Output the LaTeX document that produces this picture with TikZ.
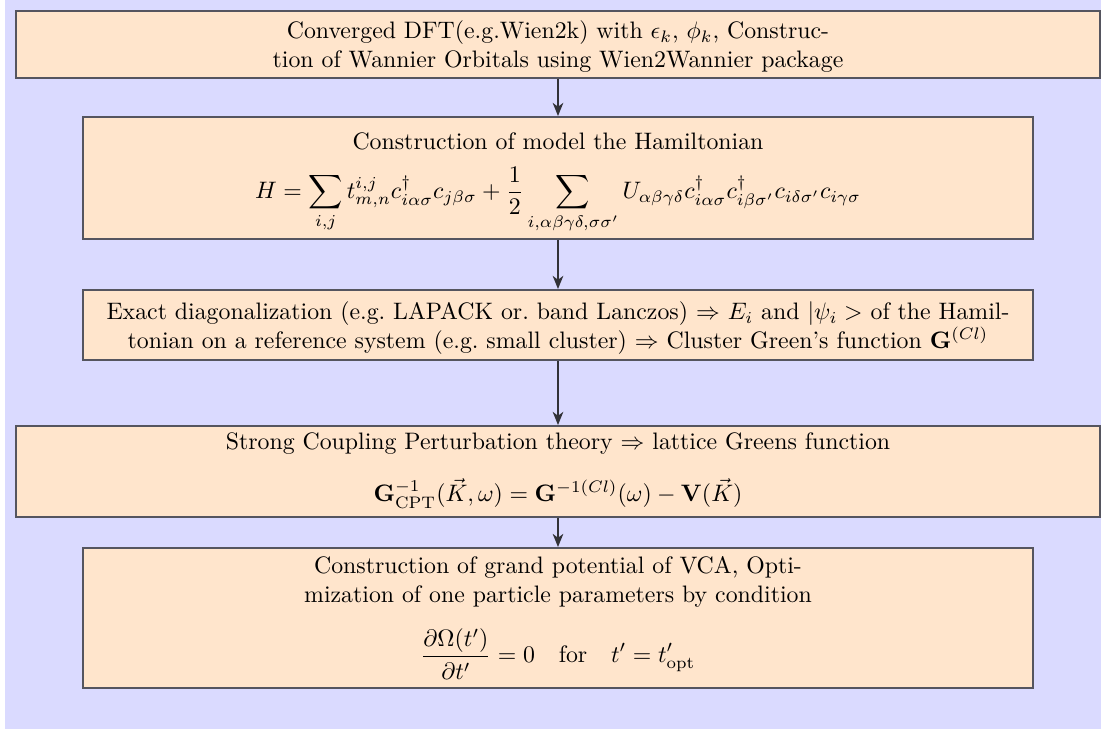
\documentclass[tikz,border=0pt]{standalone}
\usepackage{amsmath}
\usetikzlibrary{arrows.meta}
\definecolor{bgcol}{RGB}{218,218,255}
\definecolor{boxfill}{RGB}{255,229,204}
\definecolor{boxline}{RGB}{85,85,95}
\definecolor{arrowcol}{RGB}{50,50,55}
\tikzset{
  stepbox/.style={draw=boxline, fill=boxfill, line width=0.8pt, inner sep=0pt},
  steptext/.style={align=center, inner sep=0pt, font=\normalsize},
  wide/.style={minimum width={1084*0.42pt}},
  narrow/.style={minimum width={950*0.42pt}},
  flowarrow/.style={draw=arrowcol, line width=0.85pt, -{Stealth[length=5.5pt,width=4.4pt,inset=1.6pt]}}
}
\begin{document}
\begin{tikzpicture}[x=0.42pt,y=-0.42pt]
\useasboundingbox (0,0) rectangle (1101,729);
\fill[white] (0,0) rectangle (5,729);
\fill[bgcol] (5,0) rectangle (1101,729);

\node[stepbox, wide, minimum height={67*0.42pt}] (b1) at (558,44.5) {};
\node[steptext] (t1) at (558,46.5)
  {Converged DFT(e.g.Wien2k) with $\epsilon_k$, $\phi_k$, Construc-\\
   tion of Wannier Orbitals using Wien2Wannier package};

\node[stepbox, narrow, minimum height={122*0.42pt}] (b2) at (558,178) {};
\node[steptext] (t2) at (558,183)
  {Construction of model the Hamiltonian\\[6pt]
   $\displaystyle H=\sum_{i,j} t^{i,j}_{m,n}c^{\dagger}_{i\alpha\sigma}c_{j\beta\sigma}
   +\frac{1}{2}\sum_{i,\alpha\beta\gamma\delta,\sigma\sigma'}
   U_{\alpha\beta\gamma\delta}c^{\dagger}_{i\alpha\sigma}c^{\dagger}_{i\beta\sigma'}c_{i\delta\sigma'}c_{i\gamma\sigma}$};

\node[stepbox, narrow, minimum height={70*0.42pt}] (b3) at (558,325) {};
\node[steptext] (t3) at (558,328)
  {Exact diagonalization (e.g.\ LAPACK or.\ band Lanczos) $\Rightarrow$ $E_i$ and $|\psi_i>$ of the Hamil-\\
   tonian on a reference system (e.g.\ small cluster) $\Rightarrow$ Cluster Green's function $\mathbf{G}^{(Cl)}$};

\node[stepbox, wide, minimum height={91*0.42pt}] (b4) at (558,471.5) {};
\node[steptext] (t4) at (558,470.5)
  {Strong Coupling Perturbation theory $\Rightarrow$ lattice Greens function\\[10pt]
   $\mathbf{G}^{-1}_{\mathrm{CPT}}(\vec{K},\omega)=\mathbf{G}^{-1(Cl)}(\omega)-\mathbf{V}(\vec{K})$};

\node[stepbox, narrow, minimum height={140*0.42pt}] (b5) at (558,618) {};
\node[steptext] (t5) at (558,618)
  {Construction of grand potential of VCA, Opti-\\
   mization of one particle parameters by condition\\[8pt]
   $\displaystyle\frac{\partial\Omega(t')}{\partial t'}=0\quad\text{for}\quad t'=t'_{\mathrm{opt}}$};

\draw[flowarrow] (b1.south) -- (b2.north);
\draw[flowarrow] (b2.south) -- (b3.north);
\draw[flowarrow] (b3.south) -- (b4.north);
\draw[flowarrow] (b4.south) -- (b5.north);
\end{tikzpicture}
\end{document}
